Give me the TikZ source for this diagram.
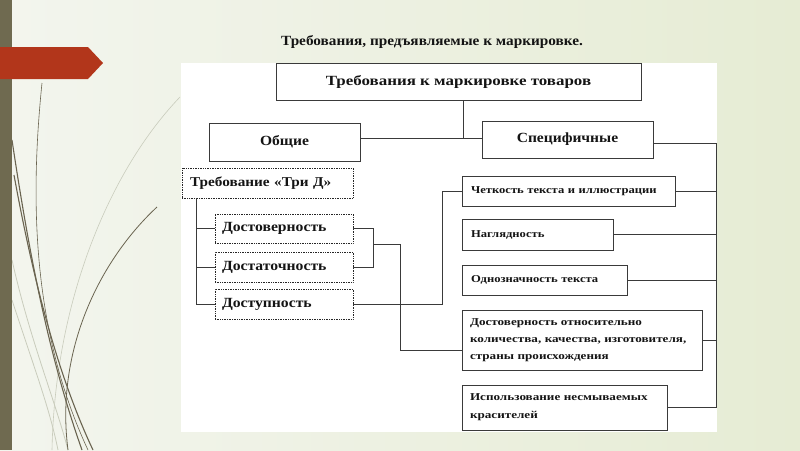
\documentclass[tikz,border=0pt]{standalone}
\usepackage{fontspec}
\setmainfont{Liberation Serif}
\definecolor{bgL}{HTML}{F3F5EE}
\definecolor{bgR}{HTML}{E6ECD4}
\definecolor{barC}{HTML}{6F6A50}
\definecolor{arrC}{HTML}{B2361B}
\definecolor{lineC}{HTML}{3A3A3A}
\definecolor{txtC}{HTML}{141414}
\definecolor{curveD}{HTML}{6A6450}
\definecolor{curveL}{HTML}{C9CCBC}
\newcommand{\fsz}[3]{\fontsize{#1}{#2}\selectfont\addfontfeature{FakeStretch=#3}\bfseries}
\tikzset{
  box/.style={draw=lineC, line width=0.7pt, fill=white, inner sep=0pt, text=txtC},
  dotbox/.style={box, draw=black!85, densely dotted, line width=0.9pt},
  conn/.style={draw=lineC, line width=0.7pt},
}
\begin{document}
\begin{tikzpicture}[x=1pt,y=-1pt]
\useasboundingbox (0,0) rectangle (800,450);
% background
\shade[left color=bgL, right color=bgR] (0,0) rectangle (800,450);
% decorative curves
\draw[curveL, line width=0.6pt] (180,97) .. controls (110,170) and (55,300) .. (52,450);
\draw[curveL, line width=0.8pt] (12,260) .. controls (30,340) and (55,400) .. (68,450);
\draw[curveL, line width=0.8pt] (12,300) .. controls (35,370) and (50,410) .. (58,450);
\draw[curveD, line width=0.6pt] (42,83) .. controls (30,200) and (32,330) .. (88,450);
\draw[curveD, line width=1.1pt] (12,140) .. controls (30,260) and (50,360) .. (82,450);
\draw[curveD, line width=1.1pt] (14,175) .. controls (35,290) and (60,380) .. (93,450);
\draw[curveD, line width=0.8pt] (157,207) .. controls (100,260) and (55,350) .. (68,450);
% left bar and arrow
\fill[barC] (0,0) rectangle (12,450);
\fill[arrC] (0,47) -- (88,47) -- (103,63) -- (88,79) -- (0,79) -- cycle;
% title
\node[text=txtC, font=\fsz{14}{14}{1.09}] (title) at (432,42) {Требования, предъявляемые к маркировке.};
% white panel
\fill[white] (181,63) rectangle (717,432);
% boxes
\node[box, minimum width=365pt, minimum height=37pt, font=\fsz{14}{14}{1.21}] (top) at (458.5,82) {Требования к маркировке товаров};
\node[box, minimum width=151pt, minimum height=38pt, font=\fsz{14}{14}{1.11}] (obsh) at (284.5,142) {Общие};
\node[box, minimum width=171pt, minimum height=37pt, font=\fsz{14}{14}{1.11}] (spec) at (567.5,139.5) {Специфичные};
\node[dotbox, minimum width=171pt, minimum height=30pt, text width=155pt, align=left, font=\fsz{13.5}{14}{1.13}] (tri) at (267.5,183) {Требование «Три Д»};
\node[dotbox, minimum width=138pt, minimum height=29pt, text width=124pt, align=left, font=\fsz{14}{14}{1.12}] (d1) at (284,228.5) {Достоверность};
\node[dotbox, minimum width=138pt, minimum height=30pt, text width=124pt, align=left, font=\fsz{14}{14}{1.12}] (d2) at (284,267) {Достаточность};
\node[dotbox, minimum width=138pt, minimum height=30pt, text width=124pt, align=left, font=\fsz{14}{14}{1.12}] (d3) at (284,304) {Доступность};
\node[box, minimum width=213pt, minimum height=30pt, text width=195pt, align=left, font=\fsz{10.5}{17}{1.2}] (r1) at (568.5,191) {Четкость текста и иллюстрации};
\node[box, minimum width=151pt, minimum height=31pt, text width=133pt, align=left, font=\fsz{10.5}{17}{1.2}] (r2) at (537.5,234.5) {Наглядность};
\node[box, minimum width=165pt, minimum height=30pt, text width=147pt, align=left, font=\fsz{10.5}{17}{1.2}] (r3) at (544.5,280) {Однозначность текста};
\node[box, minimum width=240pt, minimum height=60pt, text width=224pt, align=left, font=\fsz{10.5}{17}{1.25}] (r4) at (582,340) {Достоверность относительно\\количества, качества, изготовителя,\\страны происхождения};
\node[box, minimum width=205pt, minimum height=45pt, text width=189pt, align=left, font=\fsz{10.5}{18}{1.25}] (r5) at (564.5,407.5) {Использование несмываемых\\красителей};
% connectors
\coordinate (hub) at (463,138);
\coordinate (bus) at (716,143);
\coordinate (tl) at (196,0);
\coordinate (br) at (373,0);
\coordinate (jn) at (400,350);
\coordinate (kn) at (442,0);
\draw[conn] (top.south -| hub) -- (hub);
\draw[conn] (obsh.east |- hub) -- (spec.west |- hub);
\draw[conn] (spec.east |- bus) -- (bus) -- (bus |- r5.east) -- (r5.east);
\draw[conn] (r1.east) -- (r1.east -| bus);
\draw[conn] (r2.east) -- (r2.east -| bus);
\draw[conn] (r3.east) -- (r3.east -| bus);
\draw[conn] (r4.east) -- (r4.east -| bus);
\draw[conn] (tri.south -| tl) |- (d3.west);
\draw[conn] (d1.west -| tl) -- (d1.west);
\draw[conn] (d2.west -| tl) -- (d2.west);
\draw[conn] (d1.east) -- (d1.east -| br) -- (d2.east -| br) -- (d2.east);
\draw[conn] (br |- 0,244) -| (jn) -- (jn -| r4.west);
\draw[conn] (d3.east) -| (kn |- r1.west) -- (r1.west);
\end{tikzpicture}
\end{document}
